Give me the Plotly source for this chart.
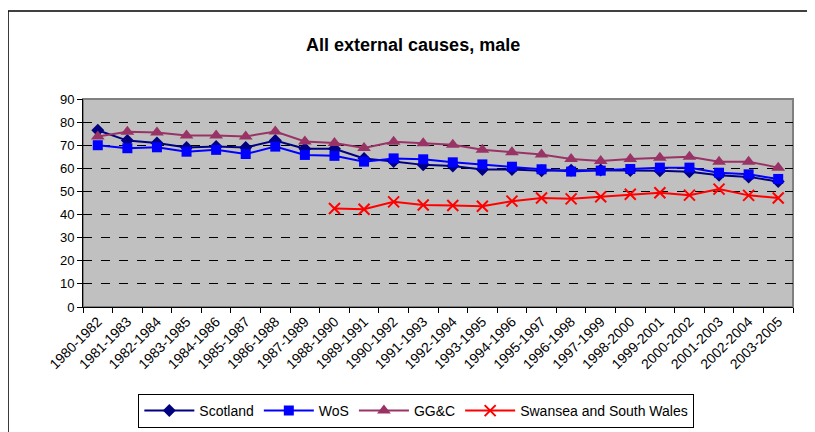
import plotly.graph_objects as go

# ================== DATA ==================
periods = ["1980-1982", "1981-1983", "1982-1984", "1983-1985", "1984-1986", "1985-1987",
           "1986-1988", "1987-1989", "1988-1990", "1989-1991", "1990-1992", "1991-1993",
           "1992-1994", "1993-1995", "1994-1996", "1995-1997", "1996-1998", "1997-1999",
           "1998-2000", "1999-2001", "2000-2002", "2001-2003", "2002-2004", "2003-2005"]

scotland = [76.5, 72.0, 71.0, 69.0, 69.5, 69.0, 72.0, 68.5, 68.5, 64.3, 63.0, 61.5,
            61.0, 59.5, 59.5, 59.0, 59.2, 59.3, 59.1, 59.0, 58.5, 57.0, 56.3, 54.3]
wos = [70.0, 68.7, 69.1, 67.2, 68.0, 66.2, 69.4, 65.8, 65.4, 62.9, 64.3, 63.9,
       62.6, 61.7, 60.7, 59.6, 58.6, 59.0, 59.7, 60.3, 60.3, 58.1, 57.4, 55.4]
ggc = [73.8, 75.8, 75.5, 74.2, 74.2, 73.8, 75.9, 71.6, 71.0, 68.8, 71.5, 70.8,
       70.2, 68.0, 67.0, 66.0, 64.0, 63.2, 64.0, 64.6, 65.0, 62.9, 62.9, 60.3]
swansea = [None] * 8 + [42.6, 42.3, 45.5, 44.1, 43.9, 43.6, 45.8, 47.2,
                        46.8, 47.7, 48.8, 49.4, 48.4, 51.0, 48.3, 47.2]

FONT = "Arial, Liberation Sans, sans-serif"

# ================== FIGURE ==================
fig = go.Figure()

fig.add_trace(go.Scatter(
    x=periods, y=scotland, name="Scotland", mode="lines+markers",
    line=dict(color="#000080", width=2),
    marker=dict(symbol="diamond", size=10, color="#000080"),
))
fig.add_trace(go.Scatter(
    x=periods, y=wos, name="WoS", mode="lines+markers",
    line=dict(color="#0000FF", width=2),
    marker=dict(symbol="square", size=10, color="#0000FF"),
))
fig.add_trace(go.Scatter(
    x=periods, y=ggc, name="GG&C", mode="lines+markers",
    line=dict(color="#993366", width=2),
    marker=dict(symbol="triangle-up", size=12, color="#993366"),
))
fig.add_trace(go.Scatter(
    x=periods, y=swansea, name="Swansea and South Wales", mode="lines+markers",
    line=dict(color="#FF0000", width=2),
    marker=dict(symbol="x-thin", size=11, line=dict(color="#FF0000", width=2)),
))

# ================== LAYOUT ==================
# page body has an 8px margin, so the figure is a bit smaller than the window
fig.update_layout(
    width=807, height=424,
    margin=dict(l=75, r=22, t=91, b=125),
    paper_bgcolor="white",
    plot_bgcolor="#C0C0C0",
    font=dict(family=FONT, size=13, color="black"),
    title=dict(
        text="<b>All external causes, male</b>",
        x=0.502, xanchor="center", y=0.913, yanchor="middle",
        font=dict(family=FONT, size=18, color="black"),
    ),
    xaxis=dict(
        type="category", range=[-0.5, 23.5], tickangle=-45, tickson="boundaries",
        automargin=False, ticks="outside", ticklen=5, tickcolor="black",
        showline=True, linecolor="black", linewidth=1,
        showgrid=False, tickfont=dict(size=14),
    ),
    yaxis=dict(
        range=[0, 90], dtick=10, automargin=False,
        ticks="outside", ticklen=5, tickcolor="black",
        showline=True, linecolor="black", linewidth=1,
        showgrid=True, gridcolor="black", griddash="dash", gridwidth=1,
        zeroline=False, tickfont=dict(size=13),
    ),
    showlegend=True,
    legend=dict(
        orientation="h", xref="container", yref="container",
        x=0.506, xanchor="center", y=0.0495, yanchor="middle",
        bordercolor="black", borderwidth=1, bgcolor="white",
        font=dict(size=14), itemwidth=50, tracegroupgap=0,
    ),
    shapes=[
        # grey border of the plot area (top/right)
        dict(type="rect", xref="paper", yref="paper", x0=0, x1=1, y0=0, y1=1,
             line=dict(color="#808080", width=2), layer="below"),
        # outer chart frame
        dict(type="line", xref="paper", yref="paper", x0=-0.1056, x1=1.05,
             y0=1.423, y1=1.423, line=dict(color="black", width=1.5)),
        dict(type="line", xref="paper", yref="paper", x0=-0.1056, x1=-0.1056,
             y0=1.423, y1=-0.7, line=dict(color="black", width=1.5)),
    ],
)

fig.write_html("out.html")
